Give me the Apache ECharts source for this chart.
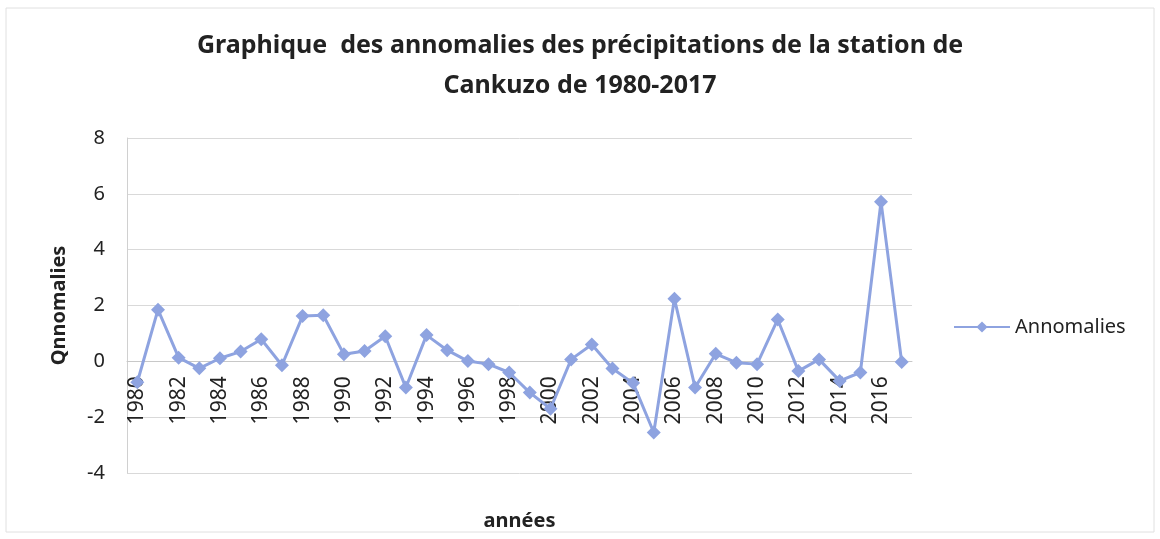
<!DOCTYPE html>
<html>
<head>
<meta charset="utf-8">
<script src="https://cdn.jsdelivr.net/npm/echarts@6/dist/echarts.min.js"></script>
<style>
  html, body { margin: 0; padding: 0; background: #fff; }
  #main { width: 1160px; height: 539px; }
</style>
</head>
<body>
<div id="main"></div>
<script>
// années 1980-2017
var annees = ['1980', '1981', '1982', '1983', '1984', '1985', '1986', '1987', '1988', '1989',
  '1990', '1991', '1992', '1993', '1994', '1995', '1996', '1997', '1998', '1999',
  '2000', '2001', '2002', '2003', '2004', '2005', '2006', '2007', '2008', '2009',
  '2010', '2011', '2012', '2013', '2014', '2015', '2016', '2017']
// anomalies
var annomalies = [-0.75, 1.85, 0.13, -0.25, 0.11, 0.35, 0.79, -0.14, 1.62, 1.65,
  0.25, 0.37, 0.9, -0.94, 0.94, 0.4, 0.01, -0.1, -0.4, -1.12,
  -1.7, 0.07, 0.6, -0.26, -0.78, -2.55, 2.24, -0.94, 0.27, -0.05,
  -0.1, 1.5, -0.35, 0.07, -0.7, -0.4, 5.72, -0.02]
var titre = 'Graphique  des annomalies des précipitations de la station de\nCankuzo de 1980-2017'

var yMin = -4
var yMax = 8
var gridTop = 138
var gridBottom = 66
var H = 539
// l'axe des x croise à 0 (comme dans Excel)
var plotH = H - gridTop - gridBottom
var xOffset = -(0 - yMin) / (yMax - yMin) * plotH

var myChart = echarts.init(document.getElementById('main'))
var option = {
  backgroundColor: '#fff',
  textStyle: {
    fontFamily: 'Noto Sans'
  },
  //cadre
  graphic: [{
    type: 'rect',
    shape: { x: 6, y: 8, width: 1148, height: 524 },
    style: { fill: 'none', stroke: '#e0e0e0', lineWidth: 1 }
  }],
  title: {
    text: titre,
    left: 'center',
    top: 21,
    textStyle: {
      fontSize: 25,
      fontWeight: 'bold',
      color: '#222',
      lineHeight: 40
    }
  },
  legend: {
    data: ['Annomalies'],
    left: 948,
    top: 312,
    itemWidth: 56,
    itemHeight: 14,
    itemGap: 5,
    textStyle: {
      fontSize: 20,
      color: '#222'
    }
  },
  grid: {
    left: 127,
    right: 248,
    top: gridTop,
    bottom: gridBottom,
    outerBoundsMode: 'none',
    containLabel: false
  },
  xAxis: {
    type: 'category',
    data: annees,
    offset: xOffset,
    name: 'années',
    nameLocation: 'middle',
    nameGap: 150,
    nameTextStyle: {
      fontSize: 20,
      fontWeight: 'bold',
      color: '#222'
    },
    axisLine: {
      onZero: false,
      lineStyle: { color: '#c8c8c8' }
    },
    axisTick: {
      interval: 0,
      length: 5,
      lineStyle: { color: '#d0d0d0' }
    },
    axisLabel: {
      rotate: 90,
      interval: 1,
      fontSize: 21,
      color: '#222',
      margin: 15
    }
  },
  yAxis: {
    type: 'value',
    min: yMin,
    max: yMax,
    interval: 2,
    name: 'Qnnomalies',
    nameLocation: 'middle',
    nameGap: 58,
    nameTextStyle: {
      fontSize: 20,
      fontWeight: 'bold',
      color: '#222'
    },
    axisLine: {
      show: true,
      onZero: false,
      lineStyle: { color: '#d0d0d0' }
    },
    axisTick: { show: false },
    axisLabel: {
      fontSize: 20,
      color: '#222',
      margin: 22
    },
    splitLine: {
      lineStyle: { color: '#d9d9d9' }
    }
  },
  series: [{
    name: 'Annomalies',
    type: 'line',
    data: annomalies,
    symbol: 'diamond',
    symbolSize: 14,
    showAllSymbol: true,
    color: '#8ea3e0',
    lineStyle: { width: 3, color: '#8ea3e0' },
    itemStyle: { color: '#8ea3e0' }
  }]
}
myChart.setOption(option)
</script>
</body>
</html>
